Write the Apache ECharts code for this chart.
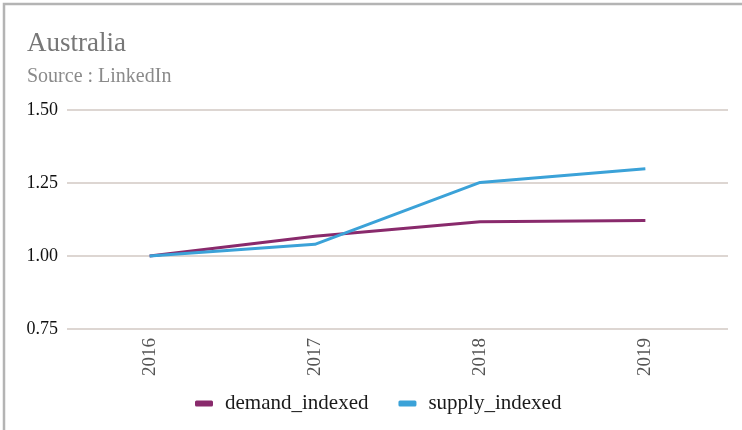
<!DOCTYPE html>
<html>
<head>
<meta charset="utf-8">
<script src="https://cdn.jsdelivr.net/npm/echarts@6/dist/echarts.min.js"></script>
<style>
html,body{margin:0;padding:0;background:#fff;}
#chart{width:742px;height:430px;}
</style>
</head>
<body>
<div id="chart"></div>
<script>
const categories = ['2016', '2017', '2018', '2019'];
const demandIndexed = [1.00, 1.068, 1.117, 1.122];
const supplyIndexed = [1.00, 1.04, 1.252, 1.299];
const yTicks = [0.75, 1.00, 1.25, 1.50];

const chart = echarts.init(document.getElementById('chart'));
const serif = '"Liberation Serif", "DejaVu Serif", serif';
chart.setOption({
  animation: false,
  backgroundColor: '#fff',
  graphic: [{
    type: 'rect',
    shape: {x: 4, y: 4, width: 900, height: 900},
    style: {fill: 'none', stroke: '#b4b4b4', lineWidth: 2.5},
    silent: true
  }],
  title: {
    text: 'Australia',
    subtext: 'Source : LinkedIn',
    left: 22,
    top: 25,
    itemGap: 10,
    textStyle: {fontFamily: serif, fontSize: 27, fontWeight: 'normal', color: '#777'},
    subtextStyle: {fontFamily: serif, fontSize: 20, color: '#8a8a8a'}
  },
  legend: {
    bottom: 11,
    left: 190,
    itemWidth: 18,
    itemHeight: 6,
    itemGap: 30,
    icon: 'roundRect',
    textStyle: {fontFamily: serif, fontSize: 21, color: '#1a1a1a', padding: [0, 0, 0, 7]},
    data: ['demand_indexed', 'supply_indexed']
  },
  grid: {left: 67, right: 14, top: 110, bottom: 101, containLabel: false},
  xAxis: {
    type: 'category',
    data: categories,
    boundaryGap: true,
    axisLine: {show: false},
    axisTick: {show: false},
    axisLabel: {rotate: 90, margin: 9, fontFamily: serif, fontSize: 19, color: '#555'}
  },
  yAxis: {
    type: 'value',
    min: yTicks[0],
    max: yTicks[yTicks.length - 1],
    interval: 0.25,
    axisLine: {show: false},
    axisTick: {show: false},
    axisLabel: {
      margin: 9,
      fontFamily: serif,
      fontSize: 18,
      color: '#111',
      formatter: v => v.toFixed(2)
    },
    splitLine: {lineStyle: {color: '#ddd6d2', width: 2}}
  },
  series: [
    {
      name: 'demand_indexed',
      type: 'line',
      data: demandIndexed,
      symbol: 'none',
      lineStyle: {width: 3, color: '#892a6c'},
      itemStyle: {color: '#892a6c'}
    },
    {
      name: 'supply_indexed',
      type: 'line',
      data: supplyIndexed,
      symbol: 'none',
      lineStyle: {width: 3, color: '#3ba2d8'},
      itemStyle: {color: '#3ba2d8'}
    }
  ]
});
</script>
</body>
</html>
